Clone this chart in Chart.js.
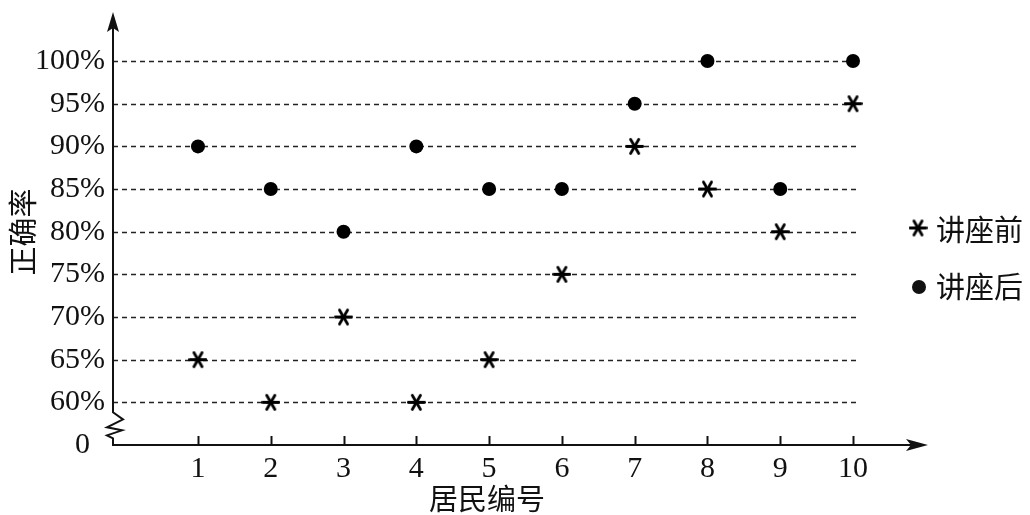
<!DOCTYPE html>
<html>
<head>
<meta charset="utf-8">
<script src="https://cdn.jsdelivr.net/npm/chart.js@4.4.0/dist/chart.umd.min.js"></script>
<style>
  html, body { margin: 0; padding: 0; background: #fff; }
</style>
</head>
<body>
<canvas id="chart" width="1030" height="515"></canvas>
<script>
// Data
var residents = [1, 2, 3, 4, 5, 6, 7, 8, 9, 10];
var beforeRates = [65, 60, 70, 60, 65, 75, 90, 85, 80, 95];   // 讲座前
var afterRates = [90, 85, 80, 90, 85, 85, 95, 100, 85, 100];  // 讲座后
var yTickValues = [55, 60, 65, 70, 75, 80, 85, 90, 95, 100];
var yTickLabels = ['0  ', '60%', '65%', '70%', '75%', '80%', '85%', '90%', '95%', '100%'];
var seriesNames = ['讲座前', '讲座后'];
var axisBreakValue = 55;

var NUM_FONT = '"Liberation Serif", "DejaVu Serif", serif';
var CJK_FONT = '"Noto Sans CJK SC", sans-serif';

/**
 * Six-armed asterisk marker
 */
function makeAsterisk(size, lw) {
    var c = document.createElement('canvas');
    c.width = c.height = size;
    var g = c.getContext('2d');
    var r = size / 2 - lw / 2;
    g.strokeStyle = '#000';
    g.lineWidth = lw;
    g.lineCap = 'round';
    for (var i = 0; i < 3; i++) {
        var ang = i * Math.PI / 3;
        g.beginPath();
        g.moveTo(size / 2 + r * Math.cos(ang), size / 2 + r * Math.sin(ang));
        g.lineTo(size / 2 - r * Math.cos(ang), size / 2 - r * Math.sin(ang));
        g.stroke();
    }
    return c;
}
var asterisk = makeAsterisk(19, 2.8);

/**
 * Axes with arrows, axis break, inner ticks, dashed guides, titles and legend
 */
var axesPlugin = {
    id: 'axesDecor',
    beforeDatasetsDraw: function(chart) {
        var ctx = chart.ctx, a = chart.chartArea;
        var xs = chart.scales.x, ys = chart.scales.y;
        ctx.save();

        // dashed guides
        ctx.strokeStyle = '#222';
        ctx.lineWidth = 1.4;
        ctx.setLineDash([5, 4]);
        var gridEnd = xs.getPixelForValue(10.07);
        yTickValues.forEach(function(v) {
            if (v === axisBreakValue) return;
            var py = Math.round(ys.getPixelForValue(v)) + 0.5;
            ctx.beginPath();
            ctx.moveTo(a.left, py);
            ctx.lineTo(gridEnd, py);
            ctx.stroke();
        });
        ctx.setLineDash([]);

        // y axis with zigzag break
        var x0 = a.left, b = a.bottom;
        var p60 = ys.getPixelForValue(60);
        ctx.strokeStyle = '#111';
        ctx.lineWidth = 2;
        ctx.beginPath();
        ctx.moveTo(x0, a.top + 14);
        ctx.lineTo(x0, p60 + 10);
        ctx.lineTo(x0 + 10, p60 + 17);
        ctx.lineTo(x0 - 6, p60 + 25);
        ctx.lineTo(x0 + 9, p60 + 28);
        ctx.lineTo(x0 - 6, p60 + 33);
        ctx.lineTo(x0, p60 + 36);
        ctx.lineTo(x0, b);
        ctx.lineTo(a.right - 14, b);
        ctx.stroke();

        // arrow heads
        ctx.fillStyle = '#111';
        ctx.beginPath();
        ctx.moveTo(x0, a.top);
        ctx.lineTo(x0 + 6, a.top + 20);
        ctx.lineTo(x0, a.top + 16);
        ctx.lineTo(x0 - 6, a.top + 20);
        ctx.closePath();
        ctx.fill();
        ctx.beginPath();
        ctx.moveTo(a.right, b);
        ctx.lineTo(a.right - 22, b - 6);
        ctx.lineTo(a.right - 17, b);
        ctx.lineTo(a.right - 22, b + 6);
        ctx.closePath();
        ctx.fill();

        // inner tick marks on x axis
        ctx.lineWidth = 2;
        residents.forEach(function(r) {
            var px = Math.round(xs.getPixelForValue(r)) + 0.5;
            ctx.beginPath();
            ctx.moveTo(px, b);
            ctx.lineTo(px, b - 9);
            ctx.stroke();
        });

        // axis titles
        ctx.fillStyle = '#111';
        ctx.font = '29px ' + CJK_FONT;
        ctx.textAlign = 'center';
        ctx.textBaseline = 'middle';
        ctx.fillText('居民编号', 487, 499);
        ctx.save();
        ctx.translate(23, 232);
        ctx.rotate(-Math.PI / 2);
        ctx.fillText('正确率', 0, 0);
        ctx.restore();

        // legend
        var items = [{ y: 230, type: 'star' }, { y: 287, type: 'dot' }];
        ctx.textAlign = 'left';
        items.forEach(function(it, i) {
            if (it.type === 'star') {
                ctx.drawImage(asterisk, 918 - asterisk.width / 2, it.y - 2 - asterisk.height / 2);
            } else {
                ctx.beginPath();
                ctx.arc(919, it.y, 7, 0, Math.PI * 2);
                ctx.fill();
            }
            ctx.fillText(seriesNames[i], 936, it.y);
        });

        ctx.restore();
    }
};

var ctx = document.getElementById('chart').getContext('2d');

new Chart(ctx, {
    type: 'scatter',
    data: {
        datasets: [{
            label: seriesNames[0],
            data: residents.map(function(r, i) { return { x: r, y: beforeRates[i] }; }),
            pointStyle: asterisk,
            pointRadius: 9,
            pointHoverRadius: 9
        }, {
            label: seriesNames[1],
            data: residents.map(function(r, i) { return { x: r, y: afterRates[i] }; }),
            pointStyle: 'circle',
            pointRadius: 7,
            pointHoverRadius: 7,
            backgroundColor: '#000',
            borderColor: '#000',
            borderWidth: 0
        }]
    },
    options: {
        responsive: false,
        animation: false,
        devicePixelRatio: 1,
        layout: {
            padding: { left: 0, top: 12, right: 102, bottom: 0 }
        },
        plugins: {
            legend: { display: false },
            tooltip: { enabled: false }
        },
        scales: {
            x: {
                type: 'linear',
                min: -0.1676,
                max: 11.03,
                grid: { display: false, drawTicks: false },
                border: { display: false },
                afterBuildTicks: function(scale) {
                    scale.ticks = residents.map(function(v) { return { value: v }; });
                },
                afterFit: function(scale) {
                    scale.height = 70;
                    scale.paddingLeft = 0;
                    scale.paddingRight = 0;
                },
                ticks: {
                    autoSkip: false,
                    maxRotation: 0,
                    padding: 6,
                    color: '#111',
                    font: { family: NUM_FONT, size: 30 },
                    callback: function(v) { return String(v); }
                }
            },
            y: {
                type: 'linear',
                min: 55,
                max: 105.75,
                grid: { display: false, drawTicks: false },
                border: { display: false },
                afterBuildTicks: function(scale) {
                    scale.ticks = yTickValues.map(function(v) { return { value: v }; });
                },
                afterFit: function(scale) {
                    scale.width = 113;
                    scale.paddingTop = 0;
                    scale.paddingBottom = 0;
                },
                ticks: {
                    autoSkip: false,
                    padding: 8,
                    color: '#111',
                    font: { family: NUM_FONT, size: 30 },
                    callback: function(v) {
                        var i = yTickValues.indexOf(v);
                        return i >= 0 ? yTickLabels[i] : '';
                    }
                }
            }
        }
    },
    plugins: [axesPlugin]
});
</script>
</body>
</html>
